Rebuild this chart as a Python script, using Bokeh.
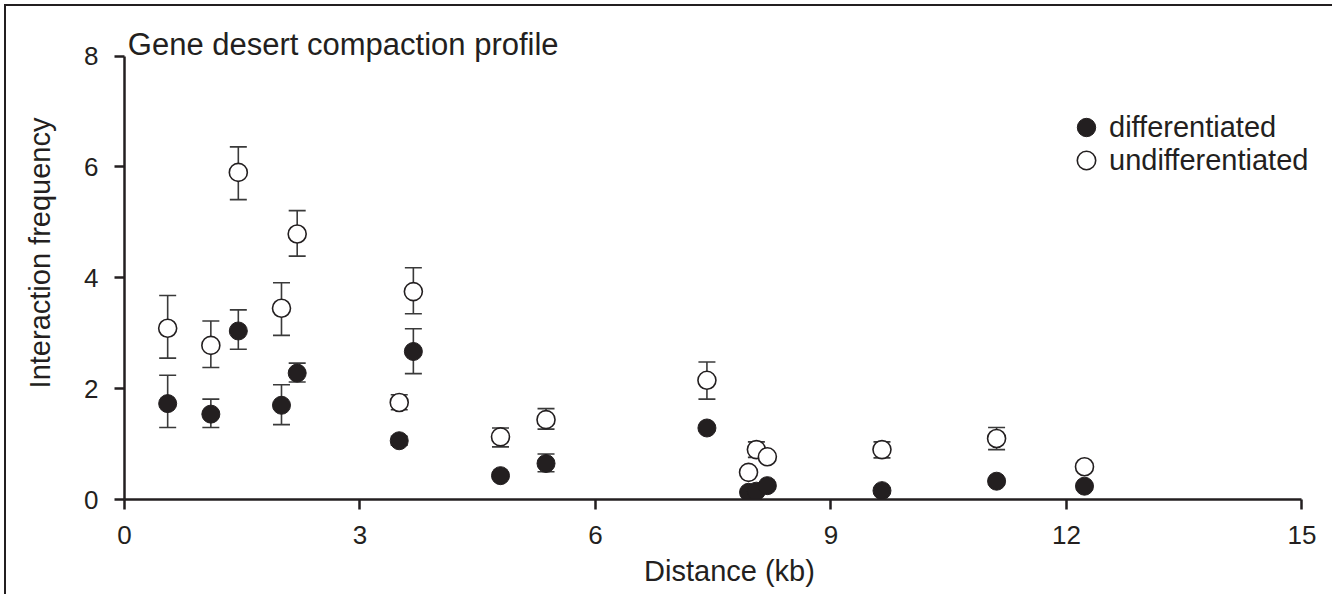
from bokeh.plotting import figure
from bokeh.models import (Range1d, FixedTicker, ColumnDataSource, Legend, LegendItem, Label)
from bokeh.embed import file_html
from bokeh.resources import INLINE

# ---------------- data ----------------
distance_kb = [0.55, 1.10, 1.45, 2.00, 2.20, 3.50, 3.68, 4.79, 5.37, 7.42, 7.95, 8.05, 8.19, 9.65, 11.11, 12.23]

diff_y = [1.73, 1.54, 3.04, 1.70, 2.28, 1.06, 2.67, 0.43, 0.65, 1.29, 0.13, 0.15, 0.25, 0.16, 0.33, 0.24]
diff_err_up = [0.51, 0.27, 0.38, 0.37, 0.18, 0.08, 0.41, 0.05, 0.17, 0.05, 0.05, 0.05, 0.05, 0.05, 0.05, 0.05]
diff_err_dn = [0.43, 0.24, 0.33, 0.35, 0.16, 0.08, 0.40, 0.05, 0.15, 0.05, 0.05, 0.05, 0.05, 0.05, 0.05, 0.05]

undiff_y = [3.09, 2.78, 5.90, 3.45, 4.79, 1.75, 3.75, 1.13, 1.44, 2.15, 0.49, 0.90, 0.77, 0.90, 1.10, 0.59]
undiff_err_up = [0.59, 0.44, 0.46, 0.46, 0.42, 0.14, 0.43, 0.16, 0.20, 0.33, 0.05, 0.14, 0.05, 0.14, 0.20, 0.05]
undiff_err_dn = [0.54, 0.40, 0.49, 0.49, 0.40, 0.13, 0.40, 0.18, 0.17, 0.34, 0.05, 0.14, 0.05, 0.15, 0.20, 0.05]

x_ticks = [0, 3, 6, 9, 12, 15]
y_ticks = [0, 2, 4, 6, 8]

title_text = "Gene desert compaction profile"
x_label = "Distance (kb)"
y_label = "Interaction frequency"
series_names = ["differentiated", "undifferentiated"]

# ---------------- styling ----------------
INK = "#231f20"
ERR = "#3a3a3a"
FONT = "Liberation Sans"

p = figure(width=1328, height=590, output_backend="svg", toolbar_location=None,
           x_range=Range1d(0, 15.415), y_range=Range1d(0, 8.893))
p.min_border_left = 118
p.min_border_right = 0
p.min_border_top = 0
p.min_border_bottom = 97
p.outline_line_color = None
p.xgrid.grid_line_color = None
p.ygrid.grid_line_color = None
p.background_fill_color = "white"
p.border_fill_color = "white"
# left/top frame lines of the original picture
p.styles = {"margin-left": "6px", "margin-top": "6px",
            "box-shadow": "-2px -2px 0 0 #231f20"}

for ax in (p.xaxis[0], p.yaxis[0]):
    ax.axis_line_width = 2.5
    ax.axis_line_color = INK
    ax.major_tick_line_width = 2.5
    ax.major_tick_line_color = INK
    ax.major_tick_out = 10
    ax.major_tick_in = 0
    ax.minor_tick_line_color = None
    ax.major_label_text_font = FONT
    ax.major_label_text_font_size = "26px"
    ax.major_label_text_color = INK
    ax.axis_label_text_font = FONT
    ax.axis_label_text_font_size = "29px"
    ax.axis_label_text_font_style = "normal"
    ax.axis_label_text_color = INK

p.xaxis[0].ticker = FixedTicker(ticks=x_ticks)
p.yaxis[0].ticker = FixedTicker(ticks=y_ticks)
p.xaxis[0].bounds = (x_ticks[0], x_ticks[-1])
p.yaxis[0].bounds = (y_ticks[0], y_ticks[-1])
p.xaxis[0].axis_label = x_label
p.yaxis[0].axis_label = y_label
p.xaxis[0].major_label_standoff = 16
p.xaxis[0].axis_label_standoff = 8
p.yaxis[0].major_label_standoff = 16
p.yaxis[0].axis_label_standoff = 25

# ---------------- error bars ----------------
def add_errors(x, y, up, dn):
    top = [a + b for a, b in zip(y, up)]
    bot = [a - b for a, b in zip(y, dn)]
    src = ColumnDataSource(dict(x=x, top=top, bot=bot))
    p.segment(x0="x", y0="bot", x1="x", y1="top", source=src, line_color=ERR, line_width=1.6)
    p.scatter(x="x", y="top", source=src, marker="dash", size=17, line_color=ERR, line_width=1.6)
    p.scatter(x="x", y="bot", source=src, marker="dash", size=17, line_color=ERR, line_width=1.6)

add_errors(distance_kb, diff_y, diff_err_up, diff_err_dn)
add_errors(distance_kb, undiff_y, undiff_err_up, undiff_err_dn)

# ---------------- markers ----------------
r_diff = p.scatter(distance_kb, diff_y, marker="circle", size=18,
                   fill_color=INK, line_color=INK, line_width=1)
r_undiff = p.scatter(distance_kb, undiff_y, marker="circle", size=18,
                     fill_color="white", line_color=INK, line_width=1.6)

# ---------------- legends (one per entry for spacing control) ----------------
def make_legend(name, rend, loc):
    lg = Legend(items=[LegendItem(label=name, renderers=[rend])], location=loc,
                glyph_width=46, glyph_height=46, label_standoff=-3,
                label_text_font=FONT, label_text_font_size="29px", label_text_color=INK,
                label_text_baseline="middle",
                padding=0, margin=0, spacing=0,
                border_line_color=None, background_fill_alpha=0)
    p.add_layout(lg)

make_legend(series_names[0], r_diff, (939, 349))
make_legend(series_names[1], r_undiff, (939, 316))

# ---------------- title text ----------------
p.add_layout(Label(x=0.042, y=8.2, text=title_text,
                   text_font=FONT, text_font_size="31px", text_color=INK,
                   text_baseline="alphabetic", text_align="left"))

open("out.html", "w").write(file_html(p, INLINE))
